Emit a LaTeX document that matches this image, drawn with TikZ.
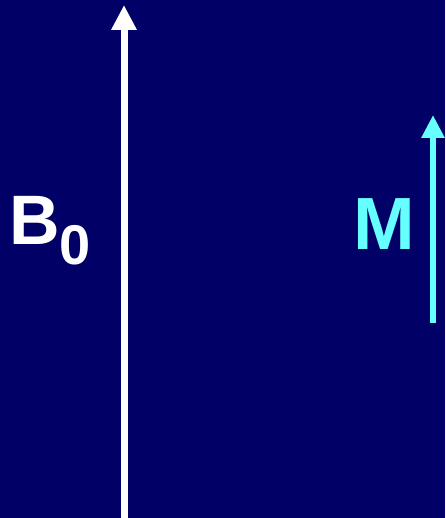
\documentclass[tikz,border=0pt]{standalone}
\usepackage{fontspec}
\setmainfont{Liberation Sans}
\usetikzlibrary{arrows.meta,positioning}
\definecolor{bgnavy}{RGB}{0,0,102}
\definecolor{magcyan}{RGB}{102,255,255}

\begin{document}
\begin{tikzpicture}[x=1pt,y=1pt,>=Latex]
  % Background
  \fill[bgnavy] (0,0) rectangle (445,518);
  \useasboundingbox (0,0) rectangle (445,518);
  % Static field B0
  \coordinate (b0bot) at (124,0);
  \coordinate (b0top) at (124,513);
  \draw[white,line width=7pt,-{Triangle[width=24pt,length=25pt]}] (b0bot) -- (b0top);
  \node[white,anchor=base west,inner sep=0pt,font=\bfseries\fontsize{70}{70}\selectfont] (blabel) at (9,273)
    {B\raisebox{-20pt}{\fontsize{56}{56}\selectfont 0}};
  % Magnetisation M
  \coordinate (mbot) at (433,195);
  \coordinate (mtop) at (433,403);
  \draw[magcyan,line width=6pt,-{Triangle[width=22pt,length=23pt]}] (mbot) -- (mtop);
  \node[magcyan,anchor=base west,inner sep=0pt,font=\bfseries\fontsize{74}{74}\selectfont] (mlabel) at (353,268) {M};
\end{tikzpicture}
\end{document}
